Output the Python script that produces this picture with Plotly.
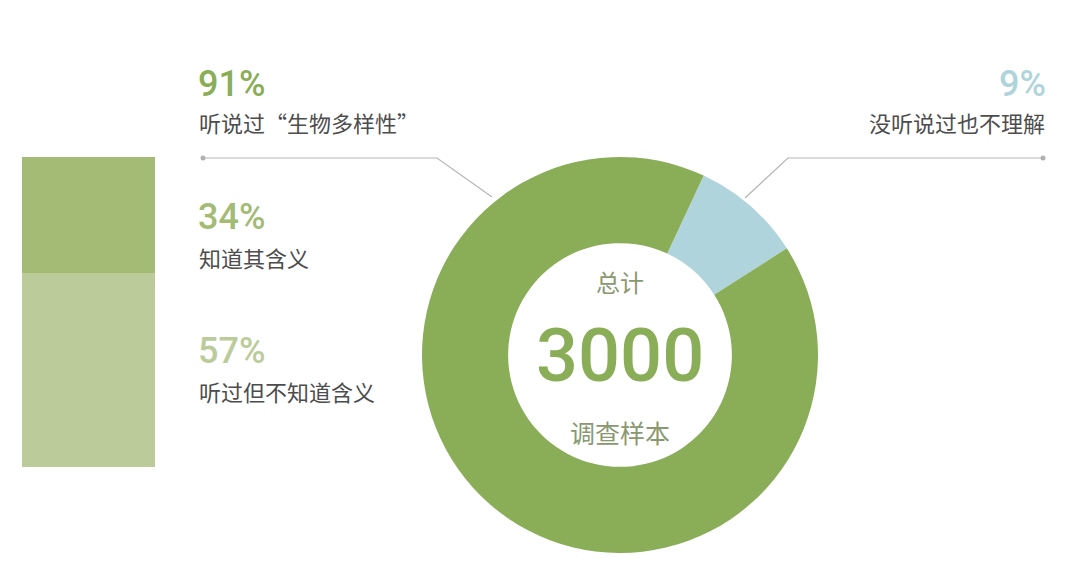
import plotly.graph_objects as go

# survey data
total = 3000
donut_labels = ['没听说过也不理解', '听说过“生物多样性”']
donut_values = [9, 91]
donut_colors = ['#b0d4dc', '#8aad57']

bar_labels = ['听过但不知道含义', '知道其含义']
bar_values = [57, 34]
bar_colors = ['#bccb9a', '#a3bb74']

W, H = 1080, 584
OFF = 8  # page body margin
def px(x): return (x - OFF) / W
def py(y): return 1 - (y - OFF) / H

NUM_FONT = 'Roboto, sans-serif'
CJK_FONT = 'Noto Sans CJK SC, sans-serif'
GRAY = '#4d4d4d'
MUTED = '#8a9870'

fig = go.Figure()

fig.add_trace(go.Pie(labels=donut_labels, values=donut_values,
                     marker=dict(colors=donut_colors, line=dict(width=0)),
                     hole=0.565, sort=False, direction='clockwise',
                     rotation=25, textinfo='none', showlegend=False,
                     domain=dict(x=[px(422), px(818)], y=[py(553), py(157)])))

for lab, val, col in zip(bar_labels, bar_values, bar_colors):
  fig.add_trace(go.Bar(x=['bar'], y=[val], name=lab, marker_color=col,
                       marker_line_width=0, showlegend=False))

fig.update_layout(width=W, height=H, margin=dict(l=0, r=0, t=0, b=0),
                  paper_bgcolor='white', plot_bgcolor='white',
                  barmode='stack', bargap=0,
                  xaxis=dict(domain=[px(22), px(155)], visible=False),
                  yaxis=dict(domain=[py(467), py(157)], range=[0, sum(bar_values)],
                             visible=False))

# leader lines
line = dict(color='#b5b5b5', width=1.2)
fig.add_shape(type='path', xref='paper', yref='paper', line=line,
              path=f'M {px(203)} {py(158)} L {px(437)} {py(158)} L {px(492)} {py(197)}')
fig.add_shape(type='path', xref='paper', yref='paper', line=line,
              path=f'M {px(1043)} {py(158)} L {px(788)} {py(158)} L {px(745)} {py(198)}')
for x in (203, 1043):
  fig.add_shape(type='circle', xref='paper', yref='paper',
                x0=px(x - 2.5), x1=px(x + 2.5), y0=py(158 + 2.5), y1=py(158 - 2.5),
                fillcolor='#b0b0b0', line_width=0)

def note(x, y, text, size, color, font, anchor='left', weight='normal'):
  fig.add_annotation(x=px(x), y=py(y), xref='paper', yref='paper', text=text,
                     showarrow=False, xanchor=anchor, yanchor='middle',
                     borderpad=0, font=dict(size=size, color=color, family=font,
                                            weight=weight))

note(197, 84, f'{donut_values[1]}%', 36, donut_colors[1], NUM_FONT, weight=500)
note(198, 122, donut_labels[1], 22, GRAY, CJK_FONT)
note(1047, 84, f'{donut_values[0]}%', 36, donut_colors[0], NUM_FONT, 'right', 500)
note(1046, 122, donut_labels[0], 22, GRAY, CJK_FONT, 'right')

note(197, 217, f'{bar_values[1]}%', 36, bar_colors[1], NUM_FONT, weight=500)
note(198, 257, bar_labels[1], 22, GRAY, CJK_FONT)
note(197, 351, f'{bar_values[0]}%', 36, bar_colors[0], NUM_FONT, weight=500)
note(198, 391, bar_labels[0], 22, GRAY, CJK_FONT)

note(620, 281, '总计', 24, MUTED, CJK_FONT, 'center')
note(620, 355, f'{total}', 74, donut_colors[1], NUM_FONT, 'center', 500)
note(620, 432, '调查样本', 25, MUTED, CJK_FONT, 'center')

fig.write_html('out.html')
